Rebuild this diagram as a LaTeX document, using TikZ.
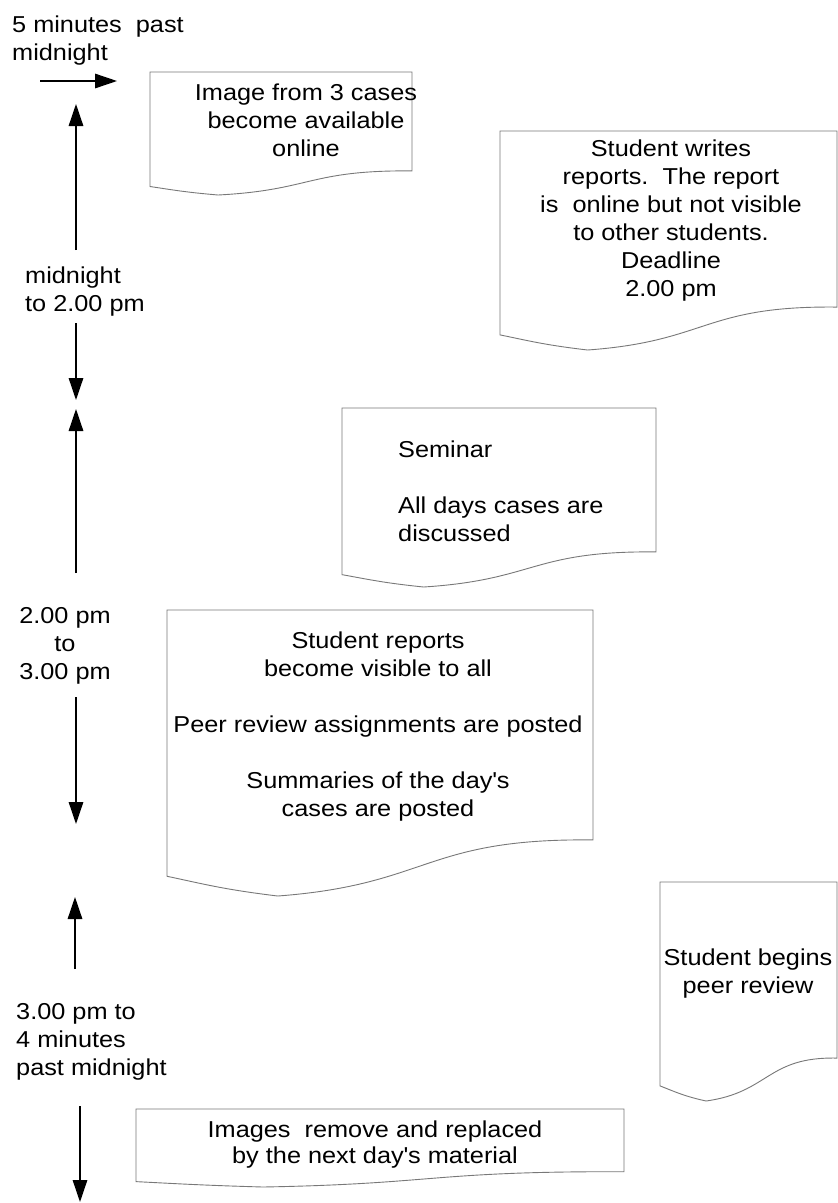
\documentclass[tikz,border=0pt]{standalone}
\usepackage{fontspec}
\setmainfont[FakeStretch=1.1]{Liberation Sans}
\usetikzlibrary{arrows.meta}
\tikzset{>={Triangle[length=22pt,width=14.5pt]}}
\definecolor{boxgray}{RGB}{120,120,120}
\tikzstyle{docline}=[draw=boxgray,line width=0.9pt]
\tikzstyle{timeline}=[draw=black,line width=1.4pt,->]
\tikzstyle{boxtext}=[font=\fontsize{23}{28}\selectfont,inner sep=0pt,align=center,anchor=north]
\tikzstyle{timetext}=[font=\fontsize{23}{28}\selectfont,inner sep=0pt,align=left,anchor=north west]

% document shape: left x, top y, width, height (y runs downwards)
\newcommand{\docbox}[4]{%
  \draw[docline] (#1,#2) -- ({#1+#3},#2) -- ({#1+#3},{#2+0.804*#4})
    .. controls ({#1+0.604*#3},{#2+0.797*#4}) and ({#1+0.618*#3},{#2+0.960*#4}) .. ({#1+0.260*#3},{#2+#4})
    .. controls ({#1+0.132*#3},{#2+0.977*#4}) and ({#1+0.086*#3},{#2+0.958*#4}) .. (#1,{#2+0.931*#4}) -- cycle;}

\begin{document}
\begin{tikzpicture}[x=1pt,y=-1pt]
  \useasboundingbox[fill=white] (0,0) rectangle (838,1203);

  \docbox{150}{72}{262}{123}
  \docbox{500}{131}{337}{219}
  \docbox{342}{408}{314}{179}
  \docbox{167}{610}{426}{286}
  \docbox{660}{882}{177}{219}
  \docbox{136}{1109}{488}{78}

  \node[boxtext] (online) at (306,83.5) {Image from 3 cases\\become available\\online};
  \node[boxtext] (writes) at (671,139.5) {Student writes\\reports.\ \ The report\\is\ \ online but not visible\\to other students.\\Deadline\\2.00 pm};
  \node[boxtext,align=left,anchor=north west] (seminar) at (398,440.5) {Seminar\\[28pt]All days cases are\\discussed};
  \node[boxtext] (visible) at (378,631.5) {Student reports\\become visible to all\\[28pt]Peer review assignments are posted\\[28pt]Summaries of the day\textquotesingle s\\cases are posted};
  \node[boxtext] (review) at (748,948.5) {Student begins\\peer review};
  \node[boxtext,font=\fontsize{23}{26}\selectfont] (replaced) at (375,1120.5) {Images\ \ remove and replaced\\by the next day\textquotesingle s material};

  \node[timetext] (fivepast) at (12,15.5) {5 minutes\ \ past\\midnight};
  \node[timetext] (midnight) at (25,266.5) {midnight\\to 2.00 pm};
  \node[boxtext] (twopm) at (65,607.5) {2.00 pm\\to\\3.00 pm};
  \node[timetext] (threepm) at (16,1003.5) {3.00 pm to\\4 minutes\\past midnight};

  \coordinate (fiveA) at (40,81);
  \coordinate (fiveB) at (117,81);
  \coordinate (midA) at (76,250);
  \coordinate (midB) at (76,104);
  \coordinate (midC) at (76,323);
  \coordinate (midD) at (76,400);
  \coordinate (twoA) at (76,573);
  \coordinate (twoB) at (76,409);
  \coordinate (twoC) at (76,697);
  \coordinate (twoD) at (76,824);
  \coordinate (threeA) at (75,969);
  \coordinate (threeB) at (75,897);
  \coordinate (threeC) at (80,1106);
  \coordinate (threeD) at (80,1202);

  \draw[timeline] (fiveA) -- (fiveB);
  \draw[timeline] (midA) -- (midB);
  \draw[timeline] (midC) -- (midD);
  \draw[timeline] (twoA) -- (twoB);
  \draw[timeline] (twoC) -- (twoD);
  \draw[timeline] (threeA) -- (threeB);
  \draw[timeline] (threeC) -- (threeD);
\end{tikzpicture}
\end{document}
